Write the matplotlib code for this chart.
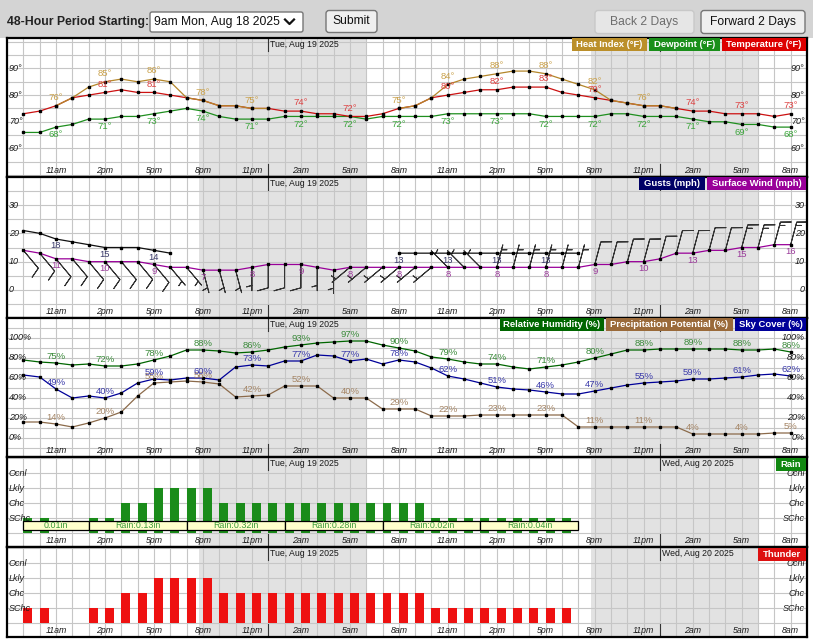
import numpy as np
import matplotlib
matplotlib.use('Agg')
import matplotlib.pyplot as plt
from matplotlib.patches import Rectangle, FancyBboxPatch

plt.rcParams['font.family'] = ['Liberation Sans', 'DejaVu Sans']

nan = np.nan

# 48 小時：Mon Aug 18 9am 起，每小時一點
hours = np.arange(48)
LABEL_IDX = list(range(2, 48, 3))
HOUR_LABELS = ['11am', '2pm', '5pm', '8pm', '11pm', '2am', '5am', '8am'] * 2
DATE_LABELS = ['Tue, Aug 19 2025', 'Wed, Aug 20 2025']
MIDNIGHT_IDX = [15, 39]
NIGHT_START = [10.75, 34.75]   # 日落
NIGHT_END = [21.0, 45.0]       # 日出

temperature = [73, 74, 76, 79, 80, 81, 82, 81, 81, 80, 79, 78,
               76, 76, 75, 75, 74, 74, 73, 73, 72, 72, 73, 75,
               76, 79, 80, 81, 82, 82, 83, 83, 83, 81, 80, 79,
               78, 77, 76, 76, 75, 74, 74, 73, 73, 73, 72, 73]
heat_index = [nan, nan, 76, 79, 83, 85, 86, 85, 86, 85, 79, 78,
              76, 76, 75, 75, nan, nan, nan, nan, nan, nan, nan, 75,
              76, 79, 84, 86, 87, 88, 89, 89, 88, 86, 84, 82,
              78, 77, 76, 76, 75, nan, nan, nan, nan, nan, nan, nan]
dewpoint = [66, 66, 68, 69, 71, 71, 72, 72, 73, 74, 75, 74,
            72, 71, 71, 71, 72, 72, 72, 72, 72, 71, 72, 72,
            72, 72, 73, 73, 73, 73, 73, 73, 72, 72, 72, 72,
            73, 73, 72, 72, 72, 71, 70, 70, 69, 69, 68, 68]

gusts = [21, 20, 18, 17, 16, 15, 15, 15, 14, 13, nan, nan,
         nan, nan, nan, nan, nan, nan, nan, nan, nan, nan, nan, 13,
         13, 13, 13, 13, 13, 13, 13, 13, 13, 13, 13, nan,
         nan, nan, nan, nan, nan, nan, nan, nan, nan, nan, nan, nan]
wind_speed = [14, 13, 11, 11, 10, 10, 10, 10, 9, 8, 8, 7,
              7, 7, 8, 9, 9, 9, 8, 7, 8, 8, 8, 8,
              8, 8, 8, 8, 8, 8, 8, 8, 8, 8, 8, 9,
              9, 10, 10, 11, 13, 13, 14, 14, 15, 15, 16, 16]
wind_dir = [140, 140, 140, 140, 140, 140, 140, 140, 140, 140, 140, 165,
            165, 165, 180, 180, 180, 180, 180, 180, 230, 230, 230, 230,
            230, 230, 315, 315, 315, 15, 15, 15, 15, 15, 15, 15,
            15, 15, 15, 15, 15, 15, 15, 15, 15, 15, 15, 15]

rel_humidity = [78, 76, 75, 73, 74, 72, 72, 74, 78, 82, 88, 88,
                87, 85, 86, 88, 91, 93, 95, 96, 97, 97, 93, 90,
                87, 81, 79, 76, 74, 74, 71, 69, 71, 73, 76, 80,
                84, 88, 88, 89, 89, 89, 89, 89, 88, 88, 89, 86]
sky_cover = [63, 61, 49, 40, 42, 40, 45, 55, 59, 58, 60, 60,
             58, 71, 73, 72, 77, 77, 83, 82, 77, 79, 74, 78,
             76, 70, 62, 59, 55, 51, 49, 48, 46, 44, 44, 47,
             50, 53, 55, 56, 57, 59, 59, 60, 61, 63, 64, 62]
precip_potential = [16, 16, 14, 11, 15, 20, 26, 42, 55, 56, 57, 56,
                    54, 41, 42, 43, 52, 52, 52, 40, 40, 40, 29, 29,
                    29, 22, 22, 22, 23, 23, 23, 23, 23, 23, 11, 11,
                    11, 11, 11, 11, 11, 4, 4, 4, 4, 4, 5, 5]

# 0 = 無, 1 = SChc, 2 = Chc, 3 = Lkly, 4 = Ocnl
rain_level = [1, 1, 0, 0, 1, 1, 2, 2, 3, 3, 3, 3,
              2, 2, 2, 2, 2, 2, 2, 2, 2, 2, 2, 2,
              2, 1, 1, 1, 1, 1, 1, 1, 1, 1, 0, 0,
              0, 0, 0, 0, 0, 0, 0, 0, 0, 0, 0, 0]
thunder_level = [1, 1, 0, 0, 1, 1, 2, 2, 3, 3, 3, 3,
                 2, 2, 2, 2, 2, 2, 2, 2, 2, 2, 2, 2,
                 2, 1, 1, 1, 1, 1, 1, 1, 1, 1, 0, 0,
                 0, 0, 0, 0, 0, 0, 0, 0, 0, 0, 0, 0]
LEVEL_NAMES = ['SChc', 'Chc', 'Lkly', 'Ocnl']

qpf_start = [0, 4, 10, 16, 22, 28]
qpf_end = [4, 10, 16, 22, 28, 34]
qpf_text = ['0.01in', 'Rain:0.13in', 'Rain:0.32in', 'Rain:0.28in', 'Rain:0.02in', 'Rain:0.04in']

W, H = 813, 643
fig = plt.figure(figsize=(W / 100, H / 100), dpi=100)
fig.patch.set_facecolor('white')


def px_axes(x0, y0, x1, y1):
    return fig.add_axes([x0 / W, 1 - y1 / H, (x1 - x0) / W, (y1 - y0) / H])


def setup_panel(ax, ylim, grid_vals, ylabels, h_px, n_dates=1):
    ax.set_xlim(-1, 48)
    ax.set_ylim(*ylim)
    ax.set_xticks([])
    ax.set_yticks([])
    for sp in ax.spines.values():
        sp.set_linewidth(1.6)
        sp.set_zorder(12)
    for a, b in zip(NIGHT_START, NIGHT_END):
        ax.axvspan(a, b, color='#e2e2e2', lw=0, zorder=0)
    for h in hours:
        ax.axvline(h, color='#c6c6c6', lw=0.8, zorder=1)
    for g in grid_vals:
        ax.axhline(g, color='#c6c6c6', lw=0.8, zorder=1)
    xt = ax.get_xaxis_transform()
    for i, lab in zip(LABEL_IDX, HOUR_LABELS):
        ax.text(i, 6.5 / h_px, lab, transform=xt, ha='center', va='center',
                style='italic', fontsize=6.3, color='#1a1a1a', zorder=7)
    for k, (m, d) in enumerate(zip(MIDNIGHT_IDX, DATE_LABELS)):
        ax.plot([m, m], [1 - 13 / h_px, 1], transform=xt, color='#333', lw=0.8, zorder=7)
        ax.plot([m, m], [0, 13 / h_px], transform=xt, color='#333', lw=0.8, zorder=7)
        if k < n_dates:
            ax.text(m + 0.12, 1 - 6.5 / h_px, d, transform=xt, ha='left', va='center',
                    fontsize=6.3, color='#1a1a1a', zorder=7)
    for val, txt in ylabels:
        ax.text(-0.9, val, txt, ha='left', va='center', style='italic',
                fontsize=6.5, color='#1a1a1a', zorder=7)
        ax.text(47.85, val, txt, ha='right', va='center', style='italic',
                fontsize=6.5, color='#1a1a1a', zorder=7)


def legend_boxes(y0, items):
    # items: (文字, 顏色, 左px, 右px)
    for text, color, x0, x1 in items:
        fig.patches.append(Rectangle((x0 / W, 1 - (y0 + 13) / H), (x1 - x0) / W, 13 / H,
                                     transform=fig.transFigure, fc=color, ec='none', zorder=20))
        fig.text((x0 + x1) / 2 / W, 1 - (y0 + 6.8) / H, text, ha='center', va='center',
                 color='white', fontweight='bold', fontsize=6.8, zorder=21)


def plot_series(ax, values, color, zorder=4):
    ax.plot(hours, values, color=color, lw=0.9, marker='s', ms=1.8,
            mfc='black', mec='black', zorder=zorder)


def point_labels(ax, values, color, dy, fmt, keep=None):
    for i in LABEL_IDX:
        v = values[i]
        if np.isnan(v) or (keep is not None and not keep(i)):
            continue
        ax.annotate(fmt.format(int(v)), (i, v), xytext=(0, dy), textcoords='offset points',
                    ha='center', va='center', color=color, fontsize=6.8, zorder=6)


# ---- 上方工具列 ----
hax = px_axes(0, 0, 813, 38)
hax.set_xlim(0, 813)
hax.set_ylim(38, 0)
hax.set_facecolor('#d4d4d4')
hax.set_xticks([])
hax.set_yticks([])
for sp in hax.spines.values():
    sp.set_visible(False)
hax.text(7, 21.5, '48-Hour Period Starting:', fontweight='bold', fontsize=8.8,
         va='center', ha='left', color='#222')
hax.add_patch(FancyBboxPatch((150, 12), 153, 20, boxstyle='round,pad=0,rounding_size=2',
                             fc='white', ec='#767676', lw=1))
hax.text(154, 22, '9am Mon, Aug 18 2025', fontsize=8.7, va='center', ha='left', color='#111')
hax.plot([285, 289.5, 294], [19.5, 24, 19.5], color='#111', lw=1.6)
hax.add_patch(FancyBboxPatch((326, 10.5), 51, 22, boxstyle='round,pad=0,rounding_size=3',
                             fc='#efefef', ec='#767676', lw=1))
hax.text(351.5, 21.5, 'Submit', fontsize=8.7, va='center', ha='center', color='#111')
hax.add_patch(FancyBboxPatch((595, 10.5), 99, 23, boxstyle='round,pad=0,rounding_size=3',
                             fc='#e6e6e6', ec='#c8c8c8', lw=1))
hax.text(644.5, 22, 'Back 2 Days', fontsize=8.7, va='center', ha='center', color='#6d6d6d')
hax.add_patch(FancyBboxPatch((701, 10.5), 104, 23, boxstyle='round,pad=0,rounding_size=3',
                             fc='#efefef', ec='#767676', lw=1))
hax.text(753, 22, 'Forward 2 Days', fontsize=8.7, va='center', ha='center', color='#111')

PANEL_PX = [(38, 177), (177, 318), (318, 457), (457, 547), (547, 637)]
X0, X1 = 7, 807

# ---- 溫度 ----
y0, y1 = PANEL_PX[0]
ax1 = px_axes(X0, y0, X1, y1)
setup_panel(ax1, (49.3, 101.4), range(50, 101, 5),
            [(90, '90°'), (80, '80°'), (70, '70°'), (60, '60°')], y1 - y0)
plot_series(ax1, dewpoint, '#1f8f1f')
plot_series(ax1, temperature, '#cc1111')
plot_series(ax1, heat_index, '#b4862a', zorder=5)
point_labels(ax1, heat_index, '#c9a049', 6, '{}°')
point_labels(ax1, temperature, '#dd4040', 6, '{}°',
             keep=lambda i: np.isnan(heat_index[i]) or heat_index[i] != temperature[i])
point_labels(ax1, dewpoint, '#3aa53a', -5.5, '{}°')
legend_boxes(y0, [('Heat Index (°F)', '#bb8f2a', 572, 647),
                  ('Dewpoint (°F)', '#1a8f1a', 649, 720),
                  ('Temperature (°F)', '#dd0000', 722, 806)])

# ---- 風 ----
y0, y1 = PANEL_PX[1]
ax2 = px_axes(X0, y0, X1, y1)
setup_panel(ax2, (-9.9, 39.9), range(-10, 41, 5),
            [(30, '30'), (20, '20'), (10, '10'), (0, '0')], y1 - y0)
kt = np.array(wind_speed) * 0.869
rad = np.deg2rad(wind_dir)
ax2.barbs(hours, wind_speed, -kt * np.sin(rad), -kt * np.cos(rad), length=5.8,
          pivot='tip', color='#333333', linewidth=0.7, zorder=3,
          sizes=dict(height=0.45, width=0.25, spacing=0.15))
plot_series(ax2, gusts, '#111111')
plot_series(ax2, wind_speed, '#990099')
point_labels(ax2, gusts, '#3a3a6a', -5, '{}')
point_labels(ax2, wind_speed, '#9a3a9a', -5, '{}')
legend_boxes(y0, [('Gusts (mph)', '#000066', 639, 705),
                  ('Surface Wind (mph)', '#990099', 707, 806)])

# ---- 濕度 / 降水機率 / 雲量 ----
y0, y1 = PANEL_PX[2]
ax3 = px_axes(X0, y0, X1, y1)
setup_panel(ax3, (-19, 120), range(-10, 111, 10),
            [(100, '100%'), (80, '80%'), (60, '60%'), (40, '40%'), (20, '20%'), (0, '0%')], y1 - y0)
plot_series(ax3, precip_potential, '#8b6a4a')
plot_series(ax3, sky_cover, '#000099')
plot_series(ax3, rel_humidity, '#006600')
point_labels(ax3, precip_potential, '#a58565', 5, '{}%')
point_labels(ax3, sky_cover, '#3a3aaa', 5, '{}%')
point_labels(ax3, rel_humidity, '#3a8a3a', 5, '{}%')
legend_boxes(y0, [('Relative Humidity (%)', '#006600', 500, 604),
                  ('Precipitation Potential (%)', '#9a6a3a', 606, 733),
                  ('Sky Cover (%)', '#000099', 735, 806)])

# ---- 雨 ----
lvl_labels = [(k + 1, name) for k, name in enumerate(LEVEL_NAMES)]
y0, y1 = PANEL_PX[3]
ax4 = px_axes(X0, y0, X1, y1)
setup_panel(ax4, (-0.93, 5.07), range(0, 6), lvl_labels, y1 - y0, n_dates=2)
ax4.bar(hours, rain_level, width=0.55, align='edge', color='#1a8c1a', zorder=3)
for s, e, t in zip(qpf_start, qpf_end, qpf_text):
    ax4.add_patch(Rectangle((s, 0.2), e - s, 0.6, fc='#ffffcc', ec='black', lw=0.9, zorder=5))
    ax4.text((s + e) / 2, 0.5, t, ha='center', va='center', color='#3a9a3a',
             fontsize=6.4, zorder=6)
legend_boxes(y0 + 1, [('Rain', '#118811', 776, 806)])

# ---- 雷雨 ----
y0, y1 = PANEL_PX[4]
ax5 = px_axes(X0, y0, X1, y1)
setup_panel(ax5, (-0.93, 5.07), range(0, 6), lvl_labels, y1 - y0, n_dates=2)
ax5.bar(hours, thunder_level, width=0.55, align='edge', color='#ee1111', zorder=3)
legend_boxes(y0 + 1, [('Thunder', '#dd1111', 758, 806)])

fig.savefig('out.png', dpi=100)
